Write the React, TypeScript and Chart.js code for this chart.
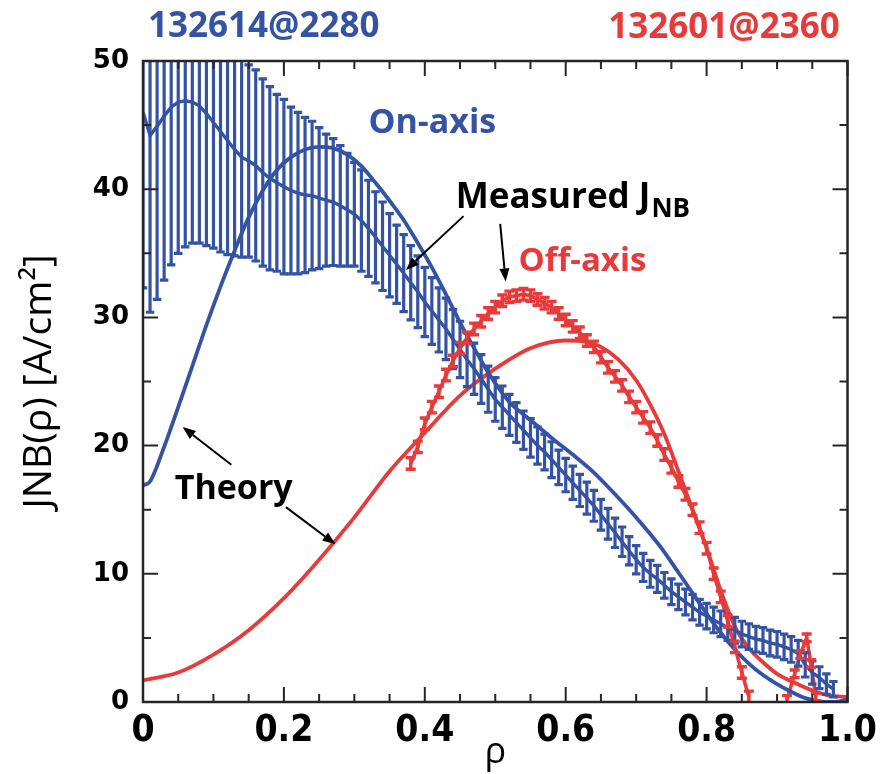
import React, { useEffect, useRef } from "react";
import { Chart, registerables } from "chart.js";

Chart.register(...registerables);

const BLUE = "#3553a3";
const RED = "#e63b3a";

// ---- On-axis (132614@2280) measured J_NB with error bars ----
const onAxisRho = [
  0.0, 0.01, 0.02, 0.03, 0.04, 0.05, 0.06, 0.07, 0.08, 0.09,
  0.1, 0.11, 0.12, 0.13, 0.14, 0.15, 0.16, 0.17, 0.18, 0.19,
  0.2, 0.21, 0.22, 0.23, 0.24, 0.25, 0.26, 0.27, 0.28, 0.29,
  0.3, 0.31, 0.32, 0.33, 0.34, 0.35, 0.36, 0.37, 0.38, 0.39,
  0.4, 0.41, 0.42, 0.43, 0.44, 0.45, 0.46, 0.47, 0.48, 0.49,
  0.5, 0.51, 0.52, 0.53, 0.54, 0.55, 0.56, 0.57, 0.58, 0.59,
  0.6, 0.61, 0.62, 0.63, 0.64, 0.65, 0.66, 0.67, 0.68, 0.69,
  0.7, 0.71, 0.72, 0.73, 0.74, 0.75, 0.76, 0.77, 0.78, 0.79,
  0.8, 0.81, 0.82, 0.83, 0.84, 0.85, 0.86, 0.87, 0.88, 0.89,
  0.9, 0.91, 0.92, 0.93, 0.94, 0.95, 0.96, 0.97, 0.98,
];
const onAxisMeasured = [
  46.0, 44.2, 44.9, 45.7, 46.4, 46.8, 46.9, 46.8, 46.5, 45.9,
  45.2, 44.5, 43.8, 43.1, 42.5, 42.2, 41.85, 41.3, 40.85, 40.5,
  40.2, 39.9, 39.7, 39.55, 39.5, 39.3, 39.15, 39.0, 38.7, 38.4,
  38.05, 37.55, 36.95, 36.25, 35.55, 34.85, 34.15, 33.45, 32.7, 32.0,
  31.2, 30.5, 29.8, 29.1, 28.3, 27.5, 26.7, 26.0, 25.2, 24.4,
  23.6, 23.0, 22.4, 21.8, 21.2, 20.6, 20.0, 19.5, 18.9, 18.3,
  17.7, 17.1, 16.5, 15.9, 15.3, 14.6, 13.9, 13.2, 12.5, 11.8,
  11.1, 10.5, 10.0, 9.6, 9.1, 8.6, 8.2, 7.8, 7.4, 7.0,
  6.7, 6.4, 6.1, 5.8, 5.6, 5.3, 5.1, 4.9, 4.8, 4.6,
  4.5, 4.3, 4.1, 3.8, 2.9, 2.3, 1.9, 1.4, 1.0,
];
const onAxisError = [
  13.7, 13.8, 13.5, 12.8, 12.3, 11.8, 11.4, 11.0, 10.7, 10.3,
  9.8, 9.4, 8.9, 8.3, 7.8, 7.5, 7.45, 7.3, 7.15, 6.9,
  6.8, 6.5, 6.3, 6.05, 5.8, 5.5, 5.15, 4.95, 4.7, 4.4,
  4.05, 3.95, 3.75, 3.55, 3.45, 3.25, 3.05, 3.0, 2.9, 2.8,
  2.7, 2.6, 2.5, 2.4, 2.3, 2.2, 2.1, 2.0, 1.9, 1.8,
  1.7, 1.65, 1.6, 1.55, 1.5, 1.5, 1.45, 1.4, 1.4, 1.35,
  1.3, 1.3, 1.25, 1.25, 1.2, 1.2, 1.2, 1.15, 1.15, 1.1,
  1.1, 1.1, 1.05, 1.05, 1.0, 1.0, 1.0, 1.0, 1.0, 1.0,
  1.0, 1.0, 1.0, 1.0, 1.0, 1.0, 1.0, 1.0, 1.0, 1.0,
  1.0, 1.0, 1.0, 1.0, 0.95, 0.9, 0.85, 0.8, 0.6,
];

// ---- On-axis theory ----
const onAxisTheoryRho = [
  0.0, 0.01, 0.03, 0.05, 0.07, 0.09, 0.11, 0.13, 0.15, 0.17, 0.19, 0.21, 0.23, 0.25,
  0.27, 0.29, 0.31, 0.33, 0.35, 0.37, 0.39, 0.41, 0.43, 0.45, 0.47, 0.49, 0.52, 0.55,
  0.58, 0.61, 0.64, 0.67, 0.7, 0.72, 0.74, 0.76, 0.78, 0.8, 0.82, 0.84, 0.86, 0.88,
  0.9, 0.92, 0.94, 0.96, 0.98, 1.0,
];
const onAxisTheory = [
  16.9, 17.2, 19.9, 23.0, 26.2, 29.4, 32.4, 35.2, 37.8, 39.9, 41.5, 42.5, 43.1, 43.3,
  43.2, 42.7, 41.8, 40.5, 39.1, 37.6, 35.8, 33.9, 31.8, 29.6, 27.6, 25.7, 23.4, 22.0,
  20.6, 19.3, 17.9, 16.2, 14.4, 13.1, 11.7, 10.1, 8.5, 6.9, 5.4, 4.1, 3.0, 2.1,
  1.4, 0.8, 0.3, 0.05, 0.0, 0.2,
];

// ---- Off-axis (132601@2360) measured J_NB ----
const offAxisRho = [
  0.38, 0.39, 0.4, 0.41, 0.42, 0.43, 0.44, 0.45, 0.46, 0.47,
  0.48, 0.49, 0.5, 0.51, 0.52, 0.53, 0.54, 0.55, 0.56, 0.57,
  0.58, 0.59, 0.6, 0.61, 0.62, 0.63, 0.64, 0.65, 0.66, 0.67,
  0.68, 0.69, 0.7, 0.71, 0.72, 0.73, 0.74, 0.75, 0.76, 0.77,
  0.78, 0.79, 0.8, 0.81, 0.82, 0.83, 0.84, 0.85, 0.86,
  0.885,
  0.914, 0.925, 0.933, 0.942, 0.948, 0.955,
];
const offAxisMeasured = [
  18.6, 19.9, 21.7, 23.0, 24.2, 25.5, 26.6, 27.6, 28.4, 29.1,
  29.7, 30.3, 30.8, 31.3, 31.6, 31.7, 31.8, 31.7, 31.4, 31.1,
  30.8, 30.3, 29.8, 29.3, 28.8, 28.2, 27.7, 26.9, 26.1, 25.4,
  24.7, 23.8, 23.0, 22.2, 21.4, 20.4, 19.3, 18.3, 17.2, 16.2,
  15.0, 13.6, 12.0, 10.0, 8.2, 6.3, 4.3, 2.3, 0.4,
  null,
  0.2, 2.2, 3.7, 5.0, 3.0, 0.4,
];
const offAxisError = [
  0.45, 0.45, 0.45, 0.45, 0.45, 0.45, 0.45, 0.45, 0.45, 0.45,
  0.45, 0.45, 0.45, 0.45, 0.45, 0.45, 0.45, 0.45, 0.45, 0.45,
  0.45, 0.45, 0.45, 0.45, 0.45, 0.45, 0.45, 0.45, 0.45, 0.45,
  0.45, 0.45, 0.45, 0.45, 0.45, 0.45, 0.45, 0.45, 0.45, 0.45,
  0.45, 0.45, 0.45, 0.45, 0.45, 0.45, 0.45, 0.45, 0.45,
  null,
  0.3, 0.3, 0.3, 0.3, 0.3, 0.3,
];

// ---- Off-axis theory ----
const offAxisTheoryRho = [
  0.0, 0.05, 0.1, 0.15, 0.2, 0.25, 0.3, 0.35, 0.4, 0.45, 0.5, 0.55, 0.6, 0.63, 0.65,
  0.675, 0.7, 0.72, 0.74, 0.76, 0.78, 0.8, 0.82, 0.84, 0.86, 0.88, 0.9, 0.925, 0.95,
  0.975, 1.0,
];
const offAxisTheory = [
  1.7, 2.3, 3.7, 5.6, 8.1, 11.1, 14.4, 18.0, 21.0, 23.9, 26.0, 27.6, 28.2, 28.1, 27.7,
  26.7, 25.1, 23.2, 20.9, 18.0, 15.0, 12.0, 8.7, 5.9, 4.2, 3.1, 2.2, 1.5, 0.9,
  0.5, 0.4,
];

const xTickLabels = ["0", "0.2", "0.4", "0.6", "0.8", "1.0"];
const yTickLabels = ["0", "10", "20", "30", "40", "50"];

// annotation texts (positions in data coordinates)
const labels = [
  { text: "132614@2280", x: 0.007, y: 51.9, color: BLUE, size: 35, align: "left" },
  { text: "132601@2360", x: 0.989, y: 51.8, color: RED, size: 35, align: "right" },
  { text: "On-axis", x: 0.32, y: 44.4, color: BLUE, size: 34, align: "left" },
  { text: "Off-axis", x: 0.533, y: 33.6, color: RED, size: 33, align: "left" },
  { text: "Theory", x: 0.045, y: 15.8, color: "#000", size: 34, align: "left" },
];
const arrows = [
  [0.455, 37.9, 0.3732, 33.7],
  [0.507, 37.3, 0.5148, 32.8],
  [0.1254, 18.5, 0.0563, 21.45],
  [0.2028, 15.2, 0.2732, 12.3],
];

const pts = (xs: number[], ys: (number | null)[]) => xs.map((x, i) => ({ x, y: ys[i] }));
const near = (v: number, step: number) => Math.abs(v / step - Math.round(v / step)) < 1e-6;

const errorBarPlugin = {
  id: "errorBars",
  afterDatasetsDraw(chart: any) {
    const { ctx, chartArea: a, scales } = chart;
    const xs = scales.x;
    const ys = scales.y;
    ctx.save();
    ctx.beginPath();
    ctx.rect(a.left, a.top, a.right - a.left, a.bottom - a.top);
    ctx.clip();
    chart.data.datasets.forEach((ds: any) => {
      if (!ds.errorBars) return;
      ctx.strokeStyle = ds.borderColor;
      ctx.lineWidth = ds.errorBarWidth;
      ctx.lineCap = "butt";
      const cap = ds.capHalf;
      ds.data.forEach((p: any, i: number) => {
        const e = ds.errorBars[i];
        if (p.y == null || e == null) return;
        const px = xs.getPixelForValue(p.x);
        const yl = ys.getPixelForValue(p.y - e);
        const yh = ys.getPixelForValue(p.y + e);
        ctx.beginPath();
        ctx.moveTo(px, yl);
        ctx.lineTo(px, yh);
        ctx.moveTo(px - cap, yl);
        ctx.lineTo(px + cap, yl);
        ctx.moveTo(px - cap, yh);
        ctx.lineTo(px + cap, yh);
        ctx.stroke();
      });
    });
    ctx.restore();
  },
};

const framePlugin = {
  id: "frameTicks",
  afterDraw(chart: any) {
    const { ctx, chartArea: a, scales } = chart;
    const xs = scales.x;
    const ys = scales.y;
    ctx.save();
    ctx.strokeStyle = "#262626";
    ctx.lineWidth = 2.5;
    ctx.strokeRect(a.left, a.top, a.right - a.left, a.bottom - a.top);
    ctx.lineWidth = 2;
    xs.ticks.forEach((t: any) => {
      const px = xs.getPixelForValue(t.value);
      const len = near(t.value, 0.2) ? 15 : 8;
      ctx.beginPath();
      ctx.moveTo(px, a.bottom);
      ctx.lineTo(px, a.bottom - len);
      ctx.moveTo(px, a.top);
      ctx.lineTo(px, a.top + len);
      ctx.stroke();
    });
    ys.ticks.forEach((t: any) => {
      const py = ys.getPixelForValue(t.value);
      const len = near(t.value, 10) ? 15 : 8;
      ctx.beginPath();
      ctx.moveTo(a.left, py);
      ctx.lineTo(a.left + len, py);
      ctx.moveTo(a.right, py);
      ctx.lineTo(a.right - len, py);
      ctx.stroke();
    });
    ctx.restore();
  },
};

const drawArrow = (ctx: CanvasRenderingContext2D, x0: number, y0: number, x1: number, y1: number) => {
  const ang = Math.atan2(y1 - y0, x1 - x0);
  const hl = 13;
  const hw = 5;
  const bx = x1 - hl * Math.cos(ang);
  const by = y1 - hl * Math.sin(ang);
  ctx.beginPath();
  ctx.moveTo(x0, y0);
  ctx.lineTo(bx, by);
  ctx.stroke();
  ctx.beginPath();
  ctx.moveTo(x1, y1);
  ctx.lineTo(bx + hw * Math.sin(ang), by - hw * Math.cos(ang));
  ctx.lineTo(bx - hw * Math.sin(ang), by + hw * Math.cos(ang));
  ctx.closePath();
  ctx.fill();
};

const annotationPlugin = {
  id: "annotations",
  afterDraw(chart: any) {
    const { ctx, scales } = chart;
    const xs = scales.x;
    const ys = scales.y;
    ctx.save();
    ctx.textBaseline = "alphabetic";
    labels.forEach((l) => {
      ctx.font = `bold ${l.size}px "Open Sans", sans-serif`;
      ctx.fillStyle = l.color;
      ctx.textAlign = l.align as CanvasTextAlign;
      ctx.fillText(l.text, xs.getPixelForValue(l.x), ys.getPixelForValue(l.y));
    });
    // Measured J_NB with subscript
    ctx.textAlign = "left";
    ctx.fillStyle = "#000";
    ctx.font = `bold 35px "Open Sans", sans-serif`;
    const mx = xs.getPixelForValue(0.444);
    const my = ys.getPixelForValue(38.5);
    const main = "Measured J";
    ctx.fillText(main, mx, my);
    const w = ctx.measureText(main).width;
    ctx.font = `bold 26px "Open Sans", sans-serif`;
    ctx.fillText("NB", mx + w + 1, my + 9);

    ctx.strokeStyle = "#000";
    ctx.fillStyle = "#000";
    ctx.lineWidth = 2;
    arrows.forEach(([x0, y0, x1, y1]) => {
      drawArrow(ctx, xs.getPixelForValue(x0), ys.getPixelForValue(y0), xs.getPixelForValue(x1), ys.getPixelForValue(y1));
    });
    ctx.restore();
  },
};

export default function App() {
  const ref = useRef<HTMLCanvasElement | null>(null);
  useEffect(() => {
    if (!ref.current) return;
    Chart.defaults.font.family = '"Open Sans", sans-serif';
    const chart = new Chart(ref.current, {
      type: "line",
      data: {
        datasets: [
          {
            label: "On-axis measured",
            data: pts(onAxisRho, onAxisMeasured),
            borderColor: BLUE,
            borderWidth: 3.4,
            pointRadius: 0,
            tension: 0,
            errorBars: onAxisError,
            errorBarWidth: 3.2,
            capHalf: 4.2,
          } as any,
          {
            label: "On-axis theory",
            data: pts(onAxisTheoryRho, onAxisTheory),
            borderColor: BLUE,
            borderWidth: 3.8,
            pointRadius: 0,
            cubicInterpolationMode: "monotone",
          },
          {
            label: "Off-axis theory",
            data: pts(offAxisTheoryRho, offAxisTheory),
            borderColor: RED,
            borderWidth: 3.8,
            pointRadius: 0,
            cubicInterpolationMode: "monotone",
          },
          {
            label: "Off-axis measured",
            data: pts(offAxisRho, offAxisMeasured),
            borderColor: RED,
            borderWidth: 3.6,
            pointRadius: 0,
            tension: 0,
            spanGaps: false,
            errorBars: offAxisError,
            errorBarWidth: 3.4,
            capHalf: 5,
          } as any,
        ],
      },
      options: {
        responsive: false,
        animation: false,
        parsing: true,
        layout: { padding: { top: 61, right: 31, left: 0, bottom: 0 } },
        plugins: { legend: { display: false }, tooltip: { enabled: false } },
        scales: {
          x: {
            type: "linear",
            min: 0,
            max: 1,
            grid: { display: false, drawTicks: false },
            border: { display: false },
            ticks: {
              stepSize: 0.05,
              autoSkip: false,
              maxRotation: 0,
              padding: 7,
              color: "#000",
              font: { family: '"Liberation Sans Narrow", "DejaVu Sans Condensed", "Roboto", sans-serif', weight: "bold", size: 37 },
              callback: (v: any) => {
                const n = Number(v);
                if (!near(n, 0.2)) return "";
                return xTickLabels[Math.round(n / 0.2)];
              },
            },
            title: {
              display: true,
              text: "ρ",
              color: "#000",
              font: { family: '"Open Sans", sans-serif', size: 36, weight: "normal" },
              padding: { top: 0, bottom: 0 },
            },
            afterFit: (s: any) => {
              s.height = 72;
            },
          },
          y: {
            type: "linear",
            min: 0,
            max: 50,
            grid: { display: false, drawTicks: false },
            border: { display: false },
            ticks: {
              stepSize: 5,
              autoSkip: false,
              padding: 14,
              color: "#000",
              font: { family: '"DejaVu Sans", sans-serif', weight: "bold", size: 26 },
              callback: (v: any) => {
                const n = Number(v);
                if (!near(n, 10)) return "";
                return yTickLabels[Math.round(n / 10)];
              },
            },
            title: {
              display: true,
              text: "JNB(ρ) [A/cm²]",
              color: "#000",
              font: { family: '"Open Sans", sans-serif', size: 39, weight: "normal" },
              padding: { top: 16, bottom: 0 },
            },
            afterFit: (s: any) => {
              s.width = 143;
            },
          },
        },
      } as any,
      plugins: [errorBarPlugin, framePlugin, annotationPlugin],
    });
    return () => chart.destroy();
  }, []);
  return (
    <div style={{ position: "fixed", left: 0, top: 0, width: 884, height: 774, background: "#fff" }}>
      <canvas ref={ref} width={884} height={774} style={{ width: 884, height: 774, display: "block" }} />
    </div>
  );
}
